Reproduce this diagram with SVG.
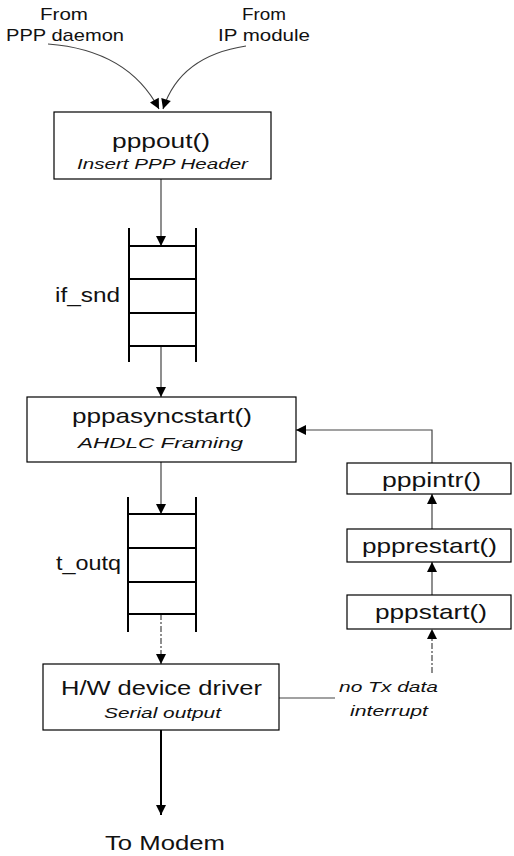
<svg xmlns="http://www.w3.org/2000/svg" width="514" height="856" viewBox="0 0 514 856">
<style>
text{font-family:"Liberation Sans",Arial,sans-serif;fill:#111}
.m{font-size:21px}
.s{font-size:15px;font-style:italic}
.l{font-size:17px}
.box{fill:#fff;stroke:#000;stroke-width:1.2}
.q{stroke:#000;stroke-width:2;fill:none}
.c{stroke:#444;stroke-width:1.2;fill:none}
</style>
<defs>
<marker id="ah" viewBox="0 0 10 10" refX="10" refY="5" markerWidth="11" markerHeight="10" markerUnits="userSpaceOnUse" orient="auto">
<path d="M0,0 L10,5 L0,10 z" fill="#000"/>
</marker>
</defs>

<g id="labels-top">
<text class="l" x="40" y="20" textLength="48" lengthAdjust="spacingAndGlyphs">From</text>
<text class="l" x="6" y="41" textLength="118" lengthAdjust="spacingAndGlyphs">PPP daemon</text>
<text class="l" x="242" y="20" textLength="44" lengthAdjust="spacingAndGlyphs">From</text>
<text class="l" x="218" y="41" textLength="92" lengthAdjust="spacingAndGlyphs">IP module</text>
</g>

<g id="connectors">
<path class="c" d="M48,44 Q128,50 159,109" marker-end="url(#ah)"/>
<path class="c" d="M246,46 Q180,56 163,109" marker-end="url(#ah)"/>
<path class="c" d="M161,179 L161,246" marker-end="url(#ah)"/>
<path class="c" d="M161,346 L161,397" marker-end="url(#ah)"/>
<path class="c" d="M161,462 L161,514" marker-end="url(#ah)"/>
<path class="c" d="M161,614 L161,664" stroke-dasharray="6,2,2,2" marker-end="url(#ah)"/>
<path d="M161,730 L161,815" stroke="#000" stroke-width="2" fill="none" marker-end="url(#ah)"/>
<path class="c" d="M432,463 L432,430 L296,430" marker-end="url(#ah)"/>
<path class="c" d="M432,529 L432,494" marker-end="url(#ah)"/>
<path class="c" d="M432,595 L432,562" marker-end="url(#ah)"/>
<path class="c" d="M432,673 L432,629" stroke-dasharray="6,2,2,2" marker-end="url(#ah)"/>
<path class="c" d="M279,698 L335,698"/>
</g>

<g id="pppout">
<rect class="box" x="54" y="112" width="217" height="67"/>
<text class="m" x="112" y="148" textLength="98" lengthAdjust="spacingAndGlyphs">pppout()</text>
<text class="s" x="77" y="169" textLength="171" lengthAdjust="spacingAndGlyphs">Insert PPP Header</text>
</g>

<g id="if_snd">
<path class="q" d="M129,228 V362 M196,228 V362 M129,246 H196 M129,279 H196 M129,313 H196 M129,346 H196"/>
<text class="m" x="55" y="302" textLength="65" lengthAdjust="spacingAndGlyphs">if_snd</text>
</g>

<g id="pppasyncstart">
<rect class="box" x="27" y="397" width="269" height="65"/>
<text class="m" x="72" y="423" textLength="180" lengthAdjust="spacingAndGlyphs">pppasyncstart()</text>
<text class="s" x="78" y="448" textLength="165" lengthAdjust="spacingAndGlyphs">AHDLC Framing</text>
</g>

<g id="t_outq">
<path class="q" d="M128,497 V632 M196,497 V632 M128,514 H196 M128,548 H196 M128,582 H196 M128,614 H196"/>
<text class="m" x="56" y="570" textLength="65" lengthAdjust="spacingAndGlyphs">t_outq</text>
</g>

<g id="pppintr">
<rect class="box" x="347" y="463" width="164" height="31"/>
<text class="m" x="382" y="487" textLength="99" lengthAdjust="spacingAndGlyphs">pppintr()</text>
</g>

<g id="ppprestart">
<rect class="box" x="347" y="529" width="164" height="33"/>
<text class="m" x="362" y="553" textLength="135" lengthAdjust="spacingAndGlyphs">ppprestart()</text>
</g>

<g id="pppstart">
<rect class="box" x="347" y="595" width="164" height="34"/>
<text class="m" x="375" y="619" textLength="112" lengthAdjust="spacingAndGlyphs">pppstart()</text>
</g>

<g id="hw">
<rect class="box" x="43" y="664" width="236" height="66"/>
<text class="m" x="61" y="695" textLength="201" lengthAdjust="spacingAndGlyphs">H/W device driver</text>
<text class="s" x="104" y="718" textLength="117" lengthAdjust="spacingAndGlyphs">Serial output</text>
</g>

<g id="interrupt-label">
<text class="s" x="339" y="692" textLength="99" lengthAdjust="spacingAndGlyphs">no Tx data</text>
<text class="s" x="350" y="716" textLength="78" lengthAdjust="spacingAndGlyphs">interrupt</text>
</g>

<g id="modem">
<text class="m" x="105" y="850" textLength="120" lengthAdjust="spacingAndGlyphs">To Modem</text>
</g>
</svg>
